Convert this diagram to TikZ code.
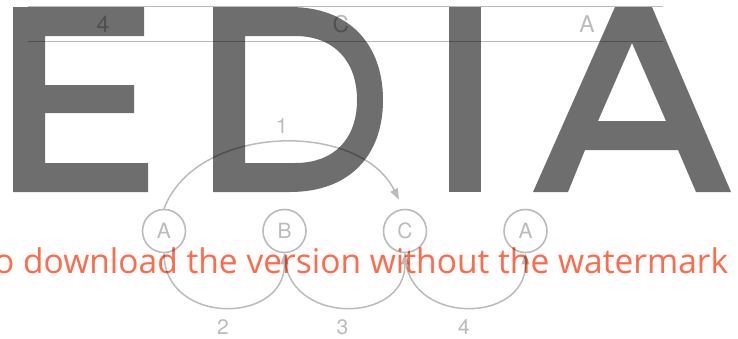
\documentclass[tikz,border=0pt]{standalone}
\usepackage{fontspec}
\setmainfont{TeX Gyre Heros}
\newfontfamily\wmfont{Open Sans}
\usetikzlibrary{arrows.meta,calc}
\definecolor{lg}{HTML}{BBBBBB}
\definecolor{wm}{HTML}{6E6E6E}
\definecolor{wmred}{HTML}{FF6A4A}
\begin{document}
\begin{tikzpicture}[x=1pt,y=-1pt,
  circ/.style={circle,draw=lg,line width=1.6pt,minimum size=43pt,inner sep=0pt,text=lg,font=\fontsize{21}{21}\selectfont},
  lbl/.style={text=lg,inner sep=0pt,font=\fontsize{21}{21}\selectfont},
  tlbl/.style={inner sep=0pt,font=\fontsize{23}{23}\selectfont},
  rule/.style={draw=lg,line width=1.2pt},
  arc/.style={draw=lg,line width=1.5pt,-{Triangle[length=11pt,width=8pt]}},
  wmfill/.style={fill=wm,even odd rule}]
\useasboundingbox (0,0) rectangle (738,338);
% table row
\coordinate (r1l) at (28,6.5); \coordinate (r1r) at (663,6.5);
\coordinate (r2l) at (28,41.5); \coordinate (r2r) at (663,41.5);
\draw[rule] (r1l) -- (r1r);
\draw[rule] (r2l) -- (r2r);
\node[tlbl,text=lg] (t1) at (103,24) {4};
\node[tlbl,text=lg] (t2) at (341,24) {C};
\node[tlbl,text=lg] (t3) at (587,24) {A};
% circles
\node[circ] (a1) at (164,231) {A};
\node[circ] (b1) at (284.5,231) {B};
\node[circ] (c1) at (405,231) {C};
\node[circ] (a2) at (525.5,231) {A};
% arcs
\draw[arc] (a1.north) .. controls +(32,-85) and +(-40,-80) .. ($(c1.north)+(-6,-9)$);
\draw[arc] (a1.south) .. controls +(0,72) and +(0,72) .. (b1.south);
\draw[arc] (b1.south) .. controls +(0,72) and +(0,72) .. (c1.south);
\draw[arc] (c1.south) .. controls +(0,72) and +(0,72) .. (a2.south);
\node[lbl] (n1) at (282,126) {1};
\node[lbl] (n2) at (223,327) {2};
\node[lbl] (n3) at (342.5,327) {3};
\node[lbl] (n4) at (464,327) {4};
% watermark
\begin{scope}[blend mode=multiply]
\fill[wmfill] (13,7) -- (144,7) -- (144,36) -- (45,36) -- (45,85) -- (134,85) -- (134,113) -- (45,113) -- (45,163) -- (148,163) -- (148,192) -- (13,192) -- cycle;
\fill[wmfill] (213,7) -- (290,7) .. controls (350,7) and (383,45) .. (383,100) .. controls (383,155) and (350,192) .. (290,192) -- (213,192) -- cycle
  (245,36) -- (295,36) .. controls (335,36) and (357,62) .. (357,100) .. controls (357,138) and (335,163) .. (295,163) -- (245,163) -- cycle;
\fill[wmfill] (449,7) rectangle (481,192);
\fill[wmfill] (533,192) -- (615,7) -- (652,7) -- (731,192) -- (696,192) -- (678,150) -- (585,150) -- (568,192) -- cycle
  (598,121) -- (632,43) -- (666,121) -- cycle;
\node[anchor=base west,inner sep=0pt,text=wmred,font=\wmfont\fontsize{34}{34}\selectfont] (wmt) at (-6,273) {\scalebox{0.986}[1]{o download the version without the watermark}};
\end{scope}
\end{tikzpicture}
\end{document}
